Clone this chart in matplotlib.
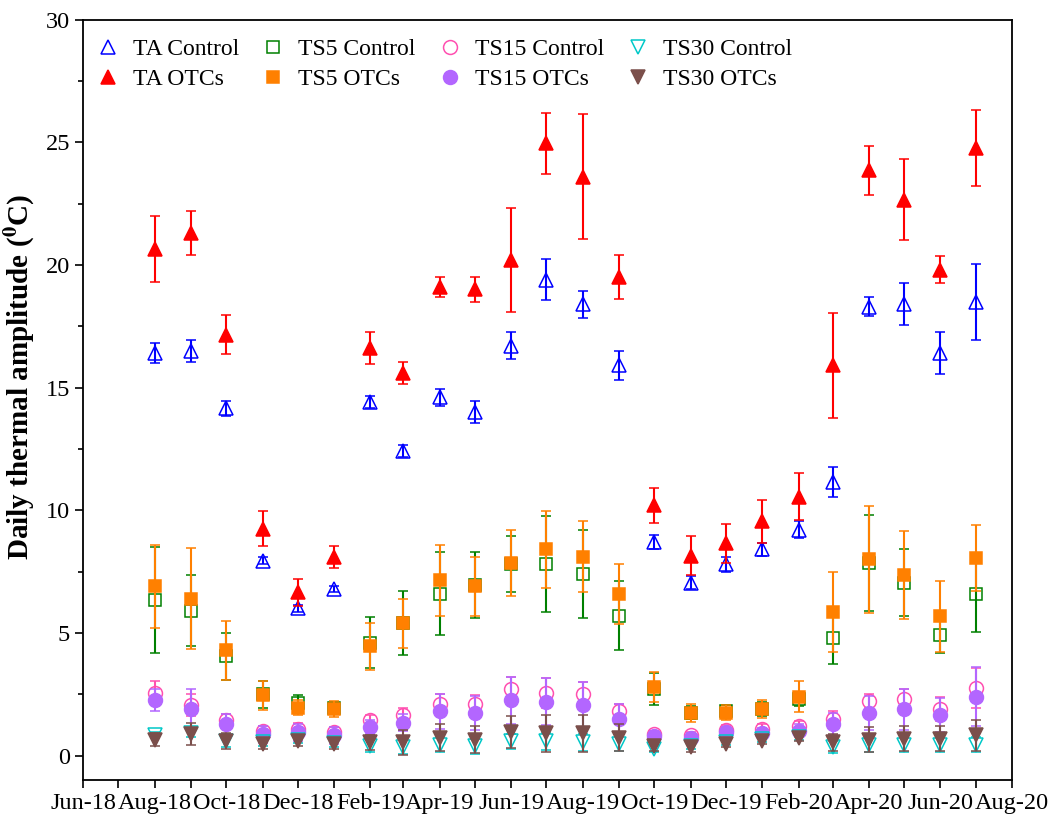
import matplotlib
matplotlib.use("Agg")
import matplotlib.pyplot as plt
import matplotlib.dates as mdates
import pandas as pd

plt.rcParams["font.family"] = ["Liberation Serif", "DejaVu Serif"]
plt.rcParams["mathtext.fontset"] = "stix"

months = pd.date_range("2018-08-01", "2020-07-01", freq="MS")

ta_ctrl = [16.4, 16.5, 14.15, 7.95, 6.0, 6.8, 14.4, 12.4, 14.6, 14.0, 16.7, 19.4,
           18.4, 15.9, 8.7, 7.05, 7.8, 8.4, 9.2, 11.15, 18.3, 18.4, 16.4, 18.5]
ta_ctrl_err = [0.4, 0.45, 0.3, 0.15, 0.15, 0.12, 0.25, 0.25, 0.35, 0.45, 0.55, 0.85,
               0.55, 0.6, 0.3, 0.28, 0.3, 0.28, 0.35, 0.6, 0.4, 0.85, 0.85, 1.55]
ta_otc = [20.65, 21.3, 17.15, 9.25, 6.65, 8.1, 16.6, 15.6, 19.1, 19.0, 20.2, 24.95,
          23.6, 19.5, 10.2, 8.15, 8.65, 9.55, 10.55, 15.9, 23.85, 22.65, 19.8, 24.75]
ta_otc_err = [1.35, 0.9, 0.8, 0.7, 0.55, 0.45, 0.65, 0.45, 0.4, 0.5, 2.1, 1.25,
              2.55, 0.9, 0.7, 0.78, 0.8, 0.88, 0.95, 2.12, 1.0, 1.65, 0.55, 1.55]

ts5_ctrl = [6.35, 5.9, 4.05, 2.5, 2.15, 1.95, 4.6, 5.4, 6.6, 6.95, 7.8, 7.8,
            7.4, 5.7, 2.7, 1.75, 1.8, 1.9, 2.3, 4.8, 7.85, 7.05, 4.9, 6.6]
ts5_ctrl_err = [2.15, 1.45, 0.95, 0.55, 0.3, 0.25, 1.05, 1.3, 1.7, 1.35, 1.15, 1.95,
                1.8, 1.4, 0.65, 0.25, 0.25, 0.3, 0.3, 1.05, 1.95, 1.35, 0.7, 1.55]
ts5_otc = [6.9, 6.4, 4.3, 2.45, 1.95, 1.9, 4.45, 5.4, 7.15, 6.9, 7.85, 8.4,
           8.1, 6.6, 2.8, 1.75, 1.75, 1.9, 2.4, 5.85, 8.0, 7.35, 5.67, 8.05]
ts5_otc_err = [1.7, 2.05, 1.2, 0.58, 0.3, 0.33, 0.95, 1.0, 1.45, 1.2, 1.35, 1.55,
               1.45, 1.22, 0.6, 0.37, 0.3, 0.37, 0.62, 1.62, 2.18, 1.8, 1.43, 1.35]

ts15_ctrl = [2.55, 2.05, 1.45, 1.0, 1.1, 0.95, 1.45, 1.65, 2.1, 2.1, 2.7, 2.55,
             2.5, 1.8, 0.86, 0.82, 1.06, 1.1, 1.22, 1.5, 2.22, 2.3, 1.9, 2.75]
ts15_ctrl_err = [0.5, 0.45, 0.25, 0.2, 0.22, 0.2, 0.2, 0.3, 0.4, 0.35, 0.5, 0.6,
                 0.5, 0.3, 0.15, 0.15, 0.2, 0.2, 0.2, 0.3, 0.3, 0.4, 0.5, 0.8]
ts15_otc = [2.25, 1.9, 1.28, 0.86, 0.95, 0.82, 1.16, 1.34, 1.8, 1.73, 2.25, 2.2,
            2.05, 1.5, 0.78, 0.73, 0.95, 0.94, 1.02, 1.28, 1.74, 1.88, 1.65, 2.4]
ts15_otc_err = [0.45, 0.8, 0.4, 0.35, 0.35, 0.35, 0.3, 0.35, 0.7, 0.7, 0.95, 0.95,
                0.95, 0.6, 0.2, 0.2, 0.2, 0.2, 0.25, 0.45, 0.7, 0.85, 0.7, 1.2]

ts30_ctrl = [0.85, 0.9, 0.6, 0.55, 0.65, 0.5, 0.4, 0.35, 0.45, 0.37, 0.58, 0.58,
             0.54, 0.48, 0.28, 0.4, 0.55, 0.68, 0.75, 0.34, 0.45, 0.45, 0.45, 0.45]
ts30_ctrl_err = [0.1, 0.15, 0.25, 0.15, 0.15, 0.15, 0.25, 0.3, 0.3, 0.3, 0.3, 0.35,
                 0.35, 0.3, 0.15, 0.15, 0.12, 0.12, 0.1, 0.25, 0.3, 0.3, 0.3, 0.3]
ts30_otc = [0.65, 0.88, 0.58, 0.48, 0.6, 0.48, 0.54, 0.54, 0.73, 0.65, 0.95, 0.9,
            0.9, 0.72, 0.38, 0.34, 0.48, 0.61, 0.73, 0.54, 0.65, 0.69, 0.69, 0.82]
ts30_otc_err = [0.25, 0.45, 0.32, 0.2, 0.2, 0.2, 0.3, 0.5, 0.55, 0.55, 0.65, 0.75,
                0.75, 0.55, 0.2, 0.2, 0.15, 0.15, 0.15, 0.35, 0.5, 0.5, 0.5, 0.65]

# (label, values, errors, color, marker, filled)
series = [
    ("TA Control", ta_ctrl, ta_ctrl_err, "#0000FF", "^", False),
    ("TA OTCs", ta_otc, ta_otc_err, "#FF0000", "^", True),
    ("TS5 Control", ts5_ctrl, ts5_ctrl_err, "#008000", "s", False),
    ("TS5 OTCs", ts5_otc, ts5_otc_err, "#FF8000", "s", True),
    ("TS15 Control", ts15_ctrl, ts15_ctrl_err, "#FF4FB0", "o", False),
    ("TS15 OTCs", ts15_otc, ts15_otc_err, "#B366FF", "o", True),
    ("TS30 Control", ts30_ctrl, ts30_ctrl_err, "#00C8C8", "v", False),
    ("TS30 OTCs", ts30_otc, ts30_otc_err, "#7B4F4B", "v", True),
]

fig = plt.figure(figsize=(10.52, 8.16), dpi=100)
ax = fig.add_axes([0.079, 0.044, 0.883, 0.932])

# controls first, OTCs drawn on top
draw_order = [0, 2, 4, 6, 1, 3, 5, 7]
handles = {}
for i in draw_order:
    label, vals, errs, color, marker, filled = series[i]
    h = ax.errorbar(months, vals, yerr=errs, fmt=marker, color=color,
                    ecolor=color, elinewidth=1.5, capsize=3.5, capthick=1.3,
                    markersize=10 if marker != "s" else 9,
                    markerfacecolor=color if filled else "none",
                    markeredgecolor=color, markeredgewidth=1.1,
                    label=label, zorder=3 + i)
    handles[i] = h

leg_handles = [handles[i][0] for i in range(8)]
leg_labels = [s[0] for s in series]
ax.legend(leg_handles, leg_labels, ncol=4, loc="upper left", frameon=False,
          fontsize=17, bbox_to_anchor=(0.0168, 0.975), borderaxespad=0,
          borderpad=0, handlelength=0.8, handletextpad=0.66,
          columnspacing=1.04, labelspacing=0.36)

ax.set_xlim(pd.Timestamp("2018-06-01"), pd.Timestamp("2020-08-01"))
ax.set_ylim(-1, 30)
ax.xaxis.set_major_locator(mdates.MonthLocator(bymonth=[2, 4, 6, 8, 10, 12]))
ax.xaxis.set_minor_locator(mdates.MonthLocator())
ax.xaxis.set_major_formatter(mdates.DateFormatter("%b-%y"))
ax.set_yticks([0, 5, 10, 15, 20, 25, 30])
ax.set_yticks([2.5, 7.5, 12.5, 17.5, 22.5, 27.5], minor=True)

ax.tick_params(axis="both", which="major", direction="out", length=6,
               width=1.2, labelsize=17.5)
ax.tick_params(axis="x", which="minor", direction="out", length=6, width=1.2)
ax.tick_params(axis="y", which="minor", direction="out", length=3.5, width=1.2)
ax.tick_params(axis="x", pad=3)
for sp in ax.spines.values():
    sp.set_linewidth(1.3)

ax.set_ylabel(r"Daily thermal amplitude ($^\mathbf{0}$C)", fontsize=21,
              fontweight="bold")
ax.yaxis.set_label_coords(-0.0495, 0.53)

fig.savefig("out.png", dpi=100)
